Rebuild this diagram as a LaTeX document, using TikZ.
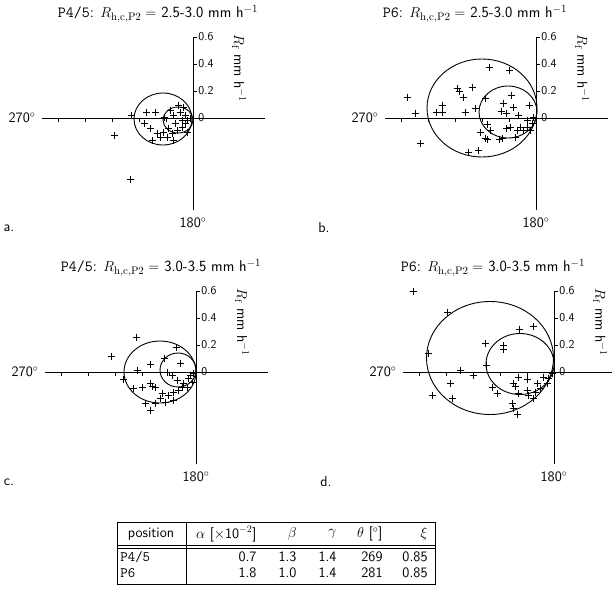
\documentclass[tikz,border=0pt]{standalone}
\usepackage{amsmath}
\renewcommand{\familydefault}{\sfdefault}
\newcommand{\polaraxes}[2]{%
  \draw (-151,0) -- (72,0);
  \draw (0,-81) -- (0,92);
  \foreach \k in {1,...,5} \draw (-27*\k,0) -- (-27*\k,4);
  \foreach \k/\v in {0/0,1/0.2,2/0.4,3/0.6} {
    \draw (0,-27*\k) -- (4,-27*\k);
    \node[font=\large, anchor=west, inner sep=1pt] at (4,-27*\k) {\v};}
  \node[font=\Large, rotate=-90] at (46,-50) {$R_{\mathrm{f}}$ mm h$^{-1}$};
  \node[font=\Large] at (-171,0) {270$^\circ$};
  \node[font=\Large] at (0,105) {180$^\circ$};
  \node[font=\fontsize{15.5}{18}\selectfont] at (#1,-104) {#2};}
\tikzset{pluses/.style={only marks, mark=+, mark size=3.5pt}}
\begin{document}
\begin{tikzpicture}[x=1pt,y=-1pt,line width=0.9pt]
  \useasboundingbox (0,0) rectangle (612,603);
  % panel a
  \begin{scope}[shift={(193,118)}]
    \polaraxes{-35}{\texttt{P4/5}: $R_{\mathrm{h,c,P2}} = $ 2.5-3.0 mm h$^{-1}$}
    \draw (-30,1) ellipse (29 and 26);
    \draw (-15,2) ellipse (15 and 13);
  \end{scope}
  \node[font=\Large] at (9,228) {a.};
  \draw plot[pluses] coordinates {(131,115) (114,135) (130,179) (146,112) (144,123) (155,112)
    (164,117) (170,110) (173,115) (180,112) (183,107) (157,133) (160,137) (152,140) (167,137)
    (172,133) (177,130) (182,127) (185,123) (187,120) (190,118) (175,123) (182,120) (173,140)
    (163,132) (168,128) (187,132) (185,115) (178,105) (150,128)};
  % panel b
  \begin{scope}[shift={(536,118)}]
    \polaraxes{-61}{\texttt{P6}: $R_{\mathrm{h,c,P2}} = $ 2.5-3.0 mm h$^{-1}$}
    \draw (-54,-10) ellipse (55 and 49);
    \draw (-28,-6) ellipse (29 and 26);
  \end{scope}
  \node[font=\Large] at (324,228) {b.};
  \draw plot[pluses] coordinates {(407,97) (415,113) (420,143) (436,112) (442,105) (442,112)
    (457,88) (459,91) (463,97) (472,87) (465,112) (475,108) (489,67) (509,70) (485,98) (503,103)
    (511,95) (501,111) (506,113) (513,107) (518,115) (529,105) (487,124) (480,132) (490,130)
    (485,138) (487,139) (499,139) (502,138) (506,128) (510,127) (515,137) (517,130) (520,127)
    (523,130) (527,127) (530,130) (532,123) (527,120) (468,152) (478,150) (533,117)};
  % panel c
  \begin{scope}[shift={(196,372)}]
    \polaraxes{-35}{\texttt{P4/5}: $R_{\mathrm{h,c,P2}} = $ 3.0-3.5 mm h$^{-1}$}
    \draw (-36,0) ellipse (36 and 31);
    \draw (-18,-2) ellipse (18 and 17);
  \end{scope}
  \node[font=\Large] at (9,482) {c.};
  \draw plot[pluses] coordinates {(136,337) (111,356) (123,379) (137,370) (150,364) (176,347)
    (180,363) (164,358) (167,372) (172,375) (133,388) (142,387) (150,383) (152,386) (155,387)
    (162,393) (160,398) (155,403) (145,403) (150,410) (168,395) (173,392) (178,390) (177,380)
    (183,383) (188,378) (190,375) (193,373) (182,387) (187,387) (192,382) (173,400) (165,402)};
  % panel d
  \begin{scope}[shift={(554,372)}]
    \polaraxes{-61}{\texttt{P6}: $R_{\mathrm{h,c,P2}} = $ 3.0-3.5 mm h$^{-1}$}
    \draw (-64,-14) ellipse (63.5 and 56.5);
    \draw (-34,-8) ellipse (34 and 30.5);
  \end{scope}
  \node[font=\Large] at (326,482) {d.};
  \draw plot[pluses] coordinates {(413,291) (447,312) (428,353) (485,343) (486,365) (503,345)
    (503,349) (519,329) (533,326) (460,370) (473,375) (450,383) (432,395) (452,398) (492,387)
    (497,393) (512,403) (513,408) (517,414) (518,377) (527,379) (513,383) (515,386) (518,393)
    (527,390) (528,395) (535,392) (537,383) (540,388) (543,377) (547,383) (548,378) (552,373)
    (533,398)};
  % table
  \draw (117,522) rectangle (435,584);
  \draw (117,545) -- (435,545) (117,548) -- (435,548);
  \draw (186,522) -- (186,584);
  \begin{scope}[every node/.style={font=\Large, inner sep=0pt}]
    \node at (151,534) {position};
    \node[anchor=east] at (257,534) {$\alpha$ [$\times$10$^{-2}$]};
    \node[anchor=east] at (297,534) {$\beta$};
    \node[anchor=east] at (337,534) {$\gamma$};
    \node[anchor=east] at (383,534) {$\theta$ [$^\circ$]};
    \node[anchor=east] at (428,534) {$\xi$};
    \node[anchor=west] at (120,557) {\texttt{P4/5}};
    \node[anchor=west] at (120,573) {\texttt{P6}};
    \node[anchor=east] at (257,557) {0.7};
    \node[anchor=east] at (297,557) {1.3};
    \node[anchor=east] at (337,557) {1.4};
    \node[anchor=east] at (383,557) {269};
    \node[anchor=east] at (428,557) {0.85};
    \node[anchor=east] at (257,573) {1.8};
    \node[anchor=east] at (297,573) {1.0};
    \node[anchor=east] at (337,573) {1.4};
    \node[anchor=east] at (383,573) {281};
    \node[anchor=east] at (428,573) {0.85};
  \end{scope}
\end{tikzpicture}
\end{document}
